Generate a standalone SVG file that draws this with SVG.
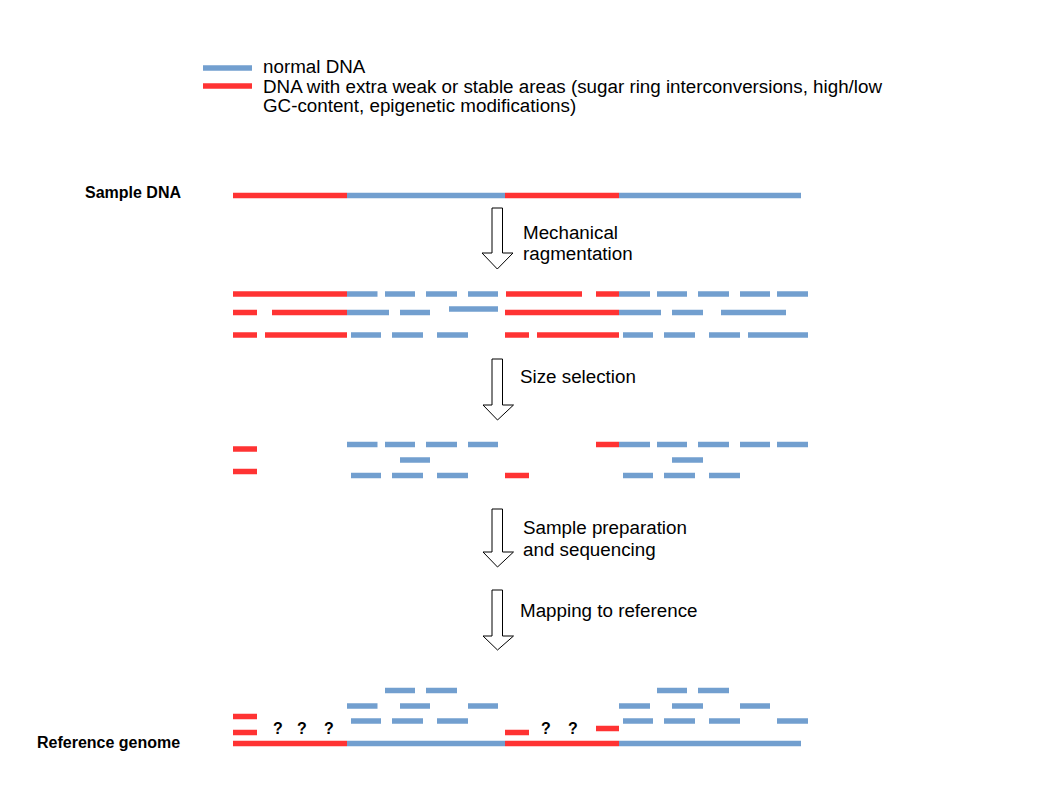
<svg xmlns="http://www.w3.org/2000/svg" width="1058" height="794" viewBox="0 0 1058 794">
<style>
.b{stroke:#729fcf;stroke-width:5.5;fill:none}
.r{stroke:#ff3333;stroke-width:5.5;fill:none}
.t{font-family:"Liberation Sans",Arial,sans-serif;font-size:18.8px;fill:#000}
.l{font-family:"Liberation Sans",Arial,sans-serif;font-size:16px;font-weight:bold;fill:#000}
.q{font-family:"Liberation Sans",Arial,sans-serif;font-size:16px;font-weight:bold;fill:#000;text-anchor:middle}
.arr{fill:#fff;stroke:#000;stroke-width:1}
</style>
<rect width="1058" height="794" fill="#fff"/>
<g id="legend">
<line class="b" x1="203" y1="68" x2="252" y2="68"/>
<line class="r" x1="203" y1="86" x2="252" y2="86"/>
<text class="t" x="263" y="72.5">normal DNA</text>
<text class="t" x="263" y="92.5">DNA with extra weak or stable areas (sugar ring interconversions, high/low</text>
<text class="t" x="263" y="112">GC-content, epigenetic modifications)</text>
</g>
<g id="sample-dna">
<text class="l" x="85" y="198">Sample DNA</text>
<line class="r" x1="233" y1="195.5" x2="347" y2="195.5"/>
<line class="b" x1="347" y1="195.5" x2="505" y2="195.5"/>
<line class="r" x1="505" y1="195.5" x2="619" y2="195.5"/>
<line class="b" x1="619" y1="195.5" x2="801" y2="195.5"/>
</g>
<g id="connectors">
<path class="arr" d="M492,208 H502.5 V253 H513 L497.3,269 L482,253 H492 Z"/>
<path class="arr" d="M492,359 H502.5 V405 H513.5 L497.5,420 L483,405 H492 Z"/>
<path class="arr" d="M492,509 H502.5 V552 H513.5 L497.5,567 L483,552 H492 Z"/>
<path class="arr" d="M492,590 H502.5 V636 H513.5 L497.5,650 L483,636 H492 Z"/>
</g>
<g id="step-labels">
<text class="t" x="523" y="239">Mechanical</text>
<text class="t" x="523" y="260">ragmentation</text>
<text class="t" x="520" y="383">Size selection</text>
<text class="t" x="523" y="534">Sample preparation</text>
<text class="t" x="523" y="556">and sequencing</text>
<text class="t" x="520" y="617">Mapping to reference</text>
</g>
<g id="fragments">
<line class="r" x1="233" y1="294" x2="347" y2="294"/>
<line class="b" x1="347" y1="294" x2="377.5" y2="294"/>
<line class="b" x1="385" y1="294" x2="415" y2="294"/>
<line class="b" x1="426" y1="294" x2="457" y2="294"/>
<line class="b" x1="468" y1="294" x2="498" y2="294"/>
<line class="r" x1="506" y1="294" x2="582" y2="294"/>
<line class="r" x1="596" y1="294" x2="619" y2="294"/>
<line class="b" x1="619" y1="294" x2="650" y2="294"/>
<line class="b" x1="657" y1="294" x2="687" y2="294"/>
<line class="b" x1="698" y1="294" x2="729" y2="294"/>
<line class="b" x1="740" y1="294" x2="770" y2="294"/>
<line class="b" x1="777" y1="294" x2="808" y2="294"/>

<line class="r" x1="233" y1="312.5" x2="257" y2="312.5"/>
<line class="r" x1="272" y1="312.5" x2="347" y2="312.5"/>
<line class="b" x1="347" y1="312.5" x2="389" y2="312.5"/>
<line class="b" x1="400" y1="312.5" x2="430" y2="312.5"/>
<line class="b" x1="449" y1="309" x2="498" y2="309"/>
<line class="r" x1="505" y1="312.5" x2="619" y2="312.5"/>
<line class="b" x1="619" y1="312.5" x2="661" y2="312.5"/>
<line class="b" x1="672" y1="312.5" x2="703" y2="312.5"/>
<line class="b" x1="721" y1="312.5" x2="786" y2="312.5"/>

<line class="r" x1="233" y1="335" x2="257" y2="335"/>
<line class="r" x1="265" y1="335" x2="347" y2="335"/>
<line class="b" x1="351" y1="335" x2="381" y2="335"/>
<line class="b" x1="392" y1="335" x2="423" y2="335"/>
<line class="b" x1="437" y1="335" x2="468" y2="335"/>
<line class="r" x1="505" y1="335" x2="529" y2="335"/>
<line class="r" x1="537" y1="335" x2="619" y2="335"/>
<line class="b" x1="623" y1="335" x2="653" y2="335"/>
<line class="b" x1="664" y1="335" x2="695" y2="335"/>
<line class="b" x1="709" y1="335" x2="740" y2="335"/>
<line class="b" x1="748" y1="335" x2="808" y2="335"/>
</g>
<g id="selected">
<line class="r" x1="233" y1="449" x2="257" y2="449"/>
<line class="r" x1="233" y1="471.5" x2="257" y2="471.5"/>
<line class="b" x1="347" y1="444.5" x2="377.5" y2="444.5"/>
<line class="b" x1="385" y1="444.5" x2="415" y2="444.5"/>
<line class="b" x1="426" y1="444.5" x2="457" y2="444.5"/>
<line class="b" x1="468" y1="444.5" x2="498" y2="444.5"/>
<line class="b" x1="400" y1="460" x2="430" y2="460"/>
<line class="b" x1="351" y1="475.5" x2="381" y2="475.5"/>
<line class="b" x1="392" y1="475.5" x2="423" y2="475.5"/>
<line class="b" x1="437" y1="475.5" x2="468" y2="475.5"/>
<line class="r" x1="505" y1="475.5" x2="529" y2="475.5"/>
<line class="r" x1="596" y1="444.5" x2="619" y2="444.5"/>
<line class="b" x1="619" y1="444.5" x2="650" y2="444.5"/>
<line class="b" x1="657" y1="444.5" x2="687" y2="444.5"/>
<line class="b" x1="698" y1="444.5" x2="729" y2="444.5"/>
<line class="b" x1="740" y1="444.5" x2="770" y2="444.5"/>
<line class="b" x1="777" y1="444.5" x2="808" y2="444.5"/>
<line class="b" x1="672" y1="460" x2="703" y2="460"/>
<line class="b" x1="623" y1="475.5" x2="653" y2="475.5"/>
<line class="b" x1="664" y1="475.5" x2="695" y2="475.5"/>
<line class="b" x1="709" y1="475.5" x2="740" y2="475.5"/>
</g>
<g id="mapped">
<line class="b" x1="385" y1="690.5" x2="415" y2="690.5"/>
<line class="b" x1="426" y1="690.5" x2="457" y2="690.5"/>
<line class="b" x1="347" y1="706" x2="377.5" y2="706"/>
<line class="b" x1="400" y1="706" x2="430" y2="706"/>
<line class="b" x1="468" y1="706" x2="498" y2="706"/>
<line class="b" x1="351" y1="721" x2="381" y2="721"/>
<line class="b" x1="392" y1="721" x2="423" y2="721"/>
<line class="b" x1="437" y1="721" x2="468" y2="721"/>
<line class="b" x1="657" y1="690.5" x2="687" y2="690.5"/>
<line class="b" x1="698" y1="690.5" x2="729" y2="690.5"/>
<line class="b" x1="619" y1="706" x2="650" y2="706"/>
<line class="b" x1="672" y1="706" x2="703" y2="706"/>
<line class="b" x1="740" y1="706" x2="770" y2="706"/>
<line class="b" x1="623" y1="721" x2="653" y2="721"/>
<line class="b" x1="664" y1="721" x2="695" y2="721"/>
<line class="b" x1="709" y1="721" x2="740" y2="721"/>
<line class="b" x1="777" y1="721" x2="808" y2="721"/>
<line class="r" x1="233" y1="716.5" x2="257" y2="716.5"/>
<line class="r" x1="233" y1="732.5" x2="257" y2="732.5"/>
<line class="r" x1="505" y1="732.5" x2="529" y2="732.5"/>
<line class="r" x1="596" y1="728.5" x2="619" y2="728.5"/>
<text class="q" x="278" y="734">?</text>
<text class="q" x="302" y="734">?</text>
<text class="q" x="329" y="734">?</text>
<text class="q" x="546" y="734">?</text>
<text class="q" x="573" y="734">?</text>
</g>
<g id="reference-genome">
<text class="l" x="37" y="748">Reference genome</text>
<line class="r" x1="233" y1="743.5" x2="347" y2="743.5"/>
<line class="b" x1="347" y1="743.5" x2="505" y2="743.5"/>
<line class="r" x1="505" y1="743.5" x2="619" y2="743.5"/>
<line class="b" x1="619" y1="743.5" x2="801" y2="743.5"/>
</g>
</svg>
